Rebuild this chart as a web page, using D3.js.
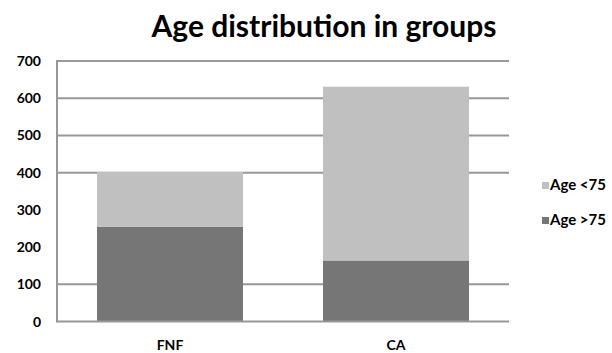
<!DOCTYPE html>
<html>
<head>
<meta charset="utf-8">
<script src="https://cdn.jsdelivr.net/npm/d3@7"></script>
<style>
  html, body { margin: 0; padding: 0; background: #fff; }
  svg { display: block; }
  text { font-family: Lato, "Open Sans", sans-serif; fill: #000; }
</style>
</head>
<body>
<svg id="chart" width="612" height="353"></svg>
<script>
// Groups and stacked counts
const categories = ["FNF", "CA"];
const seriesNames = ["Age >75", "Age <75"];
const olderCounts = [255, 164];   // Age >75
const youngerCounts = [147, 467]; // Age <75
const yTicks = [0, 100, 200, 300, 400, 500, 600, 700];
const gridValues = [100, 400, 500, 600, 700];
const colors = { "Age >75": "#767676", "Age <75": "#c0c0c0" };

const svg = d3.select("#chart");
const margin = { left: 57, right: 103, top: 61, bottom: 31.5 };
const W = 612, H = 353;

const x = d3.scaleBand()
  .domain(categories)
  .range([margin.left, W - margin.right])
  .paddingInner(0.354)
  .paddingOuter(0.177);

const y = d3.scaleLinear()
  .domain([0, 700])
  .range([H - margin.bottom, margin.top]);

// Title
svg.append("text")
  .attr("x", 324).attr("y", 37)
  .attr("text-anchor", "middle")
  .attr("font-size", 30).attr("font-weight", "bold")
  .text("Age distribution in groups");

// Horizontal gridlines
svg.append("g").selectAll("line")
  .data(gridValues)
  .join("line")
  .attr("x1", margin.left).attr("x2", W - margin.right)
  .attr("y1", d => y(d)).attr("y2", d => y(d))
  .attr("stroke", "#989898").attr("stroke-width", 2);

// Stacked bars
const rows = categories.map((c, i) => ({
  group: c, "Age >75": olderCounts[i], "Age <75": youngerCounts[i]
}));
const stacked = d3.stack().keys(seriesNames)(rows);

svg.append("g").selectAll("g")
  .data(stacked)
  .join("g")
  .attr("fill", d => colors[d.key])
  .selectAll("rect")
  .data(d => d)
  .join("rect")
  .attr("x", d => x(d.data.group))
  .attr("width", x.bandwidth())
  .attr("y", d => y(d[1]))
  .attr("height", d => y(d[0]) - y(d[1]));

// Axes lines
svg.append("line")
  .attr("x1", margin.left).attr("x2", margin.left)
  .attr("y1", y(700) - 1).attr("y2", y(0) + 1)
  .attr("stroke", "#989898").attr("stroke-width", 2);
svg.append("line")
  .attr("x1", margin.left).attr("x2", W - margin.right)
  .attr("y1", y(0)).attr("y2", y(0))
  .attr("stroke", "#989898").attr("stroke-width", 2);

// Y tick labels
svg.append("g").selectAll("text")
  .data(yTicks)
  .join("text")
  .attr("x", 41).attr("y", d => y(d))
  .attr("dy", "0.36em")
  .attr("text-anchor", "end")
  .attr("font-size", 14).attr("font-weight", "bold")
  .text(d => d);

// Category labels
svg.append("g").selectAll("text")
  .data(categories)
  .join("text")
  .attr("x", d => x(d) + x.bandwidth() / 2)
  .attr("y", 350)
  .attr("text-anchor", "middle")
  .attr("font-size", 14).attr("font-weight", "bold")
  .text(d => d);

// Legend
const legendItems = ["Age <75", "Age >75"];
const lg = svg.append("g").selectAll("g")
  .data(legendItems)
  .join("g")
  .attr("transform", (d, i) => `translate(542, ${182 + i * 35})`);
lg.append("rect")
  .attr("width", 7).attr("height", 7)
  .attr("fill", d => colors[d]);
lg.append("text")
  .attr("x", 8).attr("y", 8)
  .attr("font-size", 15).attr("font-weight", "bold")
  .text(d => d);
</script>
</body>
</html>
